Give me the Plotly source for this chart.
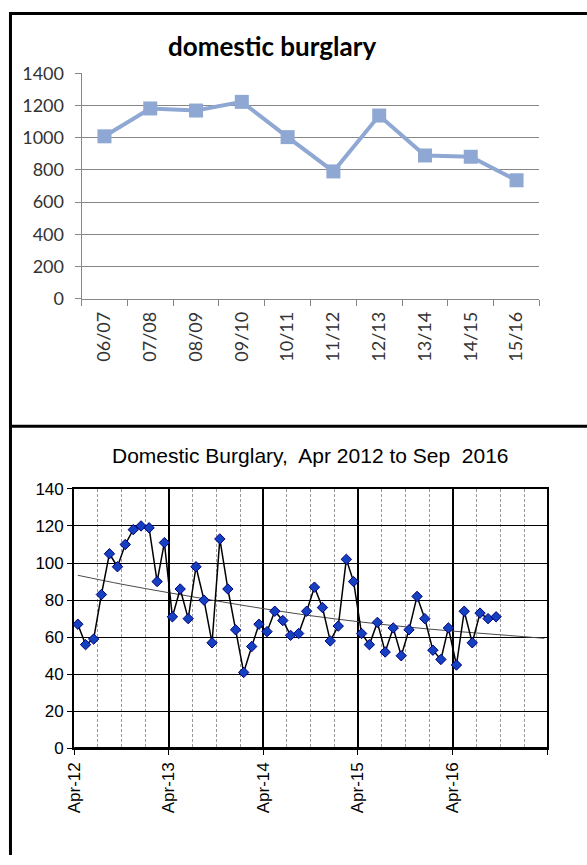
import plotly.graph_objects as go

# ---- top chart data ----
fin_years = ["06/07", "07/08", "08/09", "09/10", "10/11", "11/12", "12/13", "13/14", "14/15", "15/16"]
annual_burglary = [1008, 1181, 1168, 1222, 1003, 790, 1137, 889, 881, 735]
annual_ticks = [0, 200, 400, 600, 800, 1000, 1200, 1400]

# ---- bottom chart data ----
monthly_burglary = [67, 56, 59, 83, 105, 98, 110, 118, 120, 119, 90, 111,
                    71, 86, 70, 98, 80, 57, 113, 86, 64, 41, 55, 67,
                    63, 74, 69, 61, 62, 74, 87, 76, 58, 66, 102, 90,
                    62, 56, 68, 52, 65, 50, 64, 82, 70, 53, 48, 65,
                    45, 74, 57, 73, 70, 71]
month_dates = [f"{2012 + (3 + i) // 12}-{(3 + i) % 12 + 1:02d}-15" for i in range(len(monthly_burglary))]

trend_dates = ["2012-04-15", "2012-10-01", "2013-04-01", "2013-10-01", "2014-04-01",
               "2014-10-01", "2015-04-01", "2015-10-01", "2016-04-01", "2016-10-01", "2017-03-20"]
trend_values = [93.4, 88.6, 84.0, 79.6, 75.4, 71.6, 68.4, 65.6, 63.3, 61.3, 59.4]
monthly_ticks = [0, 20, 40, 60, 80, 100, 120, 140]
year_tick_dates = ["2012-04-01", "2013-04-01", "2014-04-01", "2015-04-01", "2016-04-01", "2017-04-01"]
year_tick_labels = ["Apr-12", "Apr-13", "Apr-14", "Apr-15", "Apr-16", ""]

W, H = 587, 865


def px(v):
    return v / W


def py(v):
    return 1 - v / H


fig = go.Figure()

fig.add_trace(go.Scatter(
    x=fin_years, y=annual_burglary, mode="lines+markers",
    line=dict(color="#8FA8D3", width=4),
    marker=dict(symbol="square", size=14, color="#8FA8D3"),
    xaxis="x", yaxis="y", showlegend=False, cliponaxis=False))

fig.add_trace(go.Scatter(
    x=trend_dates, y=trend_values, mode="lines",
    line=dict(color="#4a4a4a", width=1, shape="spline"),
    xaxis="x2", yaxis="y2", showlegend=False))

fig.add_trace(go.Scatter(
    x=month_dates, y=monthly_burglary, mode="lines+markers",
    line=dict(color="#000000", width=1.5),
    marker=dict(symbol="diamond", size=8, color="#1540C0", line=dict(color="#000080", width=1)),
    xaxis="x2", yaxis="y2", showlegend=False, cliponaxis=False))

top_font = dict(family="Lato, 'Open Sans', sans-serif", size=18, color="#333333")
bot_font = dict(family="'Liberation Sans', Arial, sans-serif", size=17, color="#000000")

fig.update_layout(
    width=W, height=H,
    margin=dict(l=0, r=0, t=0, b=0),
    paper_bgcolor="white", plot_bgcolor="white",
    xaxis=dict(domain=[px(73.7), px(538.7)], anchor="y", type="category",
               range=[-0.5, 9.5], tickangle=-90, tickfont=top_font,
               showgrid=False, showline=True, linecolor="#868686", linewidth=1,
               ticks="outside", tickson="boundaries", ticklen=6, tickcolor="#868686",
               ticklabelstandoff=5,
               zeroline=False, fixedrange=True),
    yaxis=dict(domain=[py(294.1), py(62.8)], anchor="x", range=[0, 1400],
               tickvals=annual_ticks, tickfont=top_font,
               showgrid=True, gridcolor="#868686", gridwidth=1,
               showline=True, linecolor="#868686", linewidth=1,
               ticks="outside", ticklen=6, tickcolor="#868686",
               ticklabelstandoff=7,
               zeroline=False, fixedrange=True),
    xaxis2=dict(domain=[px(66.2), px(546.8)], anchor="y2", type="date",
                range=["2012-04-01", "2017-04-01"],
                tickvals=year_tick_dates, ticktext=year_tick_labels,
                tickangle=-90, tickfont=bot_font,
                showgrid=True, gridcolor="#000000", gridwidth=2,
                minor=dict(dtick="M3", tick0="2012-04-01", showgrid=True,
                           gridcolor="#9a9a9a", griddash="3px,2px", gridwidth=1),
                showline=True, linecolor="#000000", linewidth=2, mirror=True,
                ticks="outside", ticklen=5, tickcolor="#000000", tickwidth=1,
                zeroline=False, fixedrange=True),
    yaxis2=dict(domain=[py(755.7), py(489.3)], anchor="x2", range=[0, 140],
                tickvals=monthly_ticks, tickfont=bot_font,
                showgrid=True, gridcolor="#000000", gridwidth=1.2,
                showline=True, linecolor="#000000", linewidth=2, mirror=True,
                ticks="outside", ticklen=5, tickcolor="#000000",
                zeroline=False, fixedrange=True),
    annotations=[
        dict(text="<b>domestic burglary</b>", x=px(267.3), y=py(35.1), xref="paper", yref="paper",
             xanchor="center", yanchor="middle", showarrow=False,
             font=dict(family="Lato, 'Open Sans', sans-serif", size=26, color="#000000")),
        dict(text="Domestic Burglary,  Apr 2012 to Sep  2016", x=px(306.2), y=py(455.2),
             xref="paper", yref="paper", xanchor="center", yanchor="middle", showarrow=False,
             font=dict(family="'Liberation Sans', Arial, sans-serif", size=21, color="#000000")),
    ],
    shapes=[
        dict(type="line", xref="paper", yref="paper", x0=0, x1=1, y0=py(1.5), y1=py(1.5),
             line=dict(color="#000000", width=3)),
        dict(type="line", xref="paper", yref="paper", x0=px(1.5), x1=px(1.5), y0=1, y1=0,
             line=dict(color="#000000", width=3)),
        dict(type="line", xref="paper", yref="paper", x0=0, x1=1, y0=py(425), y1=py(425),
             line=dict(color="#000000", width=3)),
        dict(type="line", xref="x2 domain", yref="y2 domain", x0=0, x1=1, y0=0, y1=0,
             line=dict(color="#000000", width=3)),
    ],
)

fig.write_html("out.html", config={"displayModeBar": False},
               post_script="document.body.style.margin='0';document.body.style.overflow='hidden';")
